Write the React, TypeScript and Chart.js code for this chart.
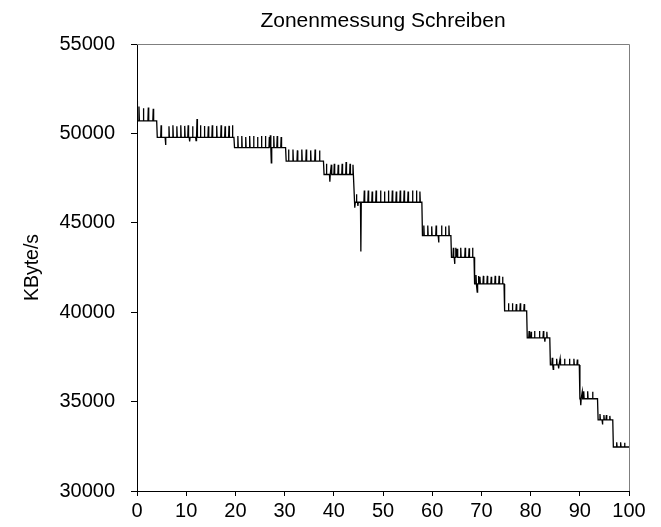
import React, { useEffect, useRef } from "react";
import { Chart, registerables } from "chart.js";

Chart.register(...registerables);

const chartTitle = "Zonenmessung Schreiben";
const yAxisTitle = "KByte/s";
const xTicks = [0, 10, 20, 30, 40, 50, 60, 70, 80, 90, 100];
const yTicks = [30000, 35000, 40000, 45000, 50000, 55000];

// plateau (zone) start positions and throughput levels
const zoneStart = [0, 4.0, 19.7, 30.2, 37.9, 44.1, 57.9, 63.8, 68.5, 74.6, 79.2, 83.9, 89.9, 93.6, 96.7];
const zoneLevel = [50700, 49780, 49200, 48450, 47700, 46150, 44280, 43070, 41580, 40070, 38560, 37050, 35160, 33980, 32460];
const xEnd = 100;

// individual spikes (position, value)
const spikeX = [
  0.0, 0.4, 1.3, 2.3, 3.3,
  4.9, 5.8, 6.5, 7.3, 8.1, 8.9, 9.7, 10.4, 10.7, 11.3, 12.0, 12.2, 12.9, 13.7, 14.5, 15.3, 16.2, 17.1, 17.9, 18.7, 19.4,
  20.5, 21.3, 22.1, 22.9, 23.7, 24.5, 25.3, 26.1, 26.9, 27.1, 27.3, 27.8, 28.5, 29.3,
  30.8, 31.7, 32.6, 33.5, 34.4, 35.3, 36.2, 37.1,
  38.5, 39.2, 39.5, 40.1, 40.9, 41.7, 42.5, 43.3, 43.9,
  44.3, 44.6, 44.9, 45.5, 46.2, 47.0, 47.8, 48.6, 49.5, 50.3, 51.1, 51.9, 52.7, 53.5, 54.3, 55.1, 56.0, 56.8, 57.5,
  58.3, 59.1, 59.9, 60.8, 61.3, 61.9, 62.7, 63.4,
  64.3, 64.55, 64.8, 65.1, 65.8, 66.7, 67.5, 68.2,
  68.9, 69.15, 69.4, 69.7, 70.4, 71.2, 72.0, 72.8, 73.6, 74.3,
  75.5, 76.3, 77.1, 77.9, 78.7,
  79.7, 80.1, 80.8, 81.8, 82.6, 82.9, 83.3,
  84.4, 84.6, 85.3, 85.7, 86.0, 86.9, 87.9, 88.8, 89.5,
  90.2, 90.5, 90.8, 91.6, 92.6,
  94.1, 94.6, 94.9, 95.4, 96.1,
  97.5, 98.3, 99.1,
];
const spikeY = [
  51850, 51500, 51400, 51450, 51380,
  50450, 49350, 50400, 50450, 50400, 50450, 50420, 50450, 49550, 50400, 49600, 50800, 50450, 50420, 50400, 50450, 50420, 50450, 50400, 50420, 50450,
  49850, 49850, 49800, 49850, 49850, 49800, 49850, 49850, 49800, 49900, 48350, 49850, 49850, 49800,
  49100, 49100, 49050, 49100, 49100, 49050, 49100, 49050,
  48300, 47300, 48250, 48300, 48250, 48300, 48400, 48300, 48250,
  45850, 46600, 45950, 43400, 46800, 46800, 46750, 46800, 46800, 46750, 46800, 46800, 46750, 46800, 46800, 46750, 46800, 46800, 46750,
  44850, 44850, 44800, 44850, 43900, 44850, 44800, 44850,
  43600, 42700, 43600, 43550, 43600, 43600, 43580, 43600,
  42080, 41130, 42030, 41980, 42030, 42030, 41980, 42030, 42030, 41980,
  40500, 40500, 40450, 40500, 40450,
  38950, 38900, 38950, 38950, 38950, 38350, 38900,
  37450, 36800, 37400, 36850, 37400, 37400, 37400, 37400, 37350,
  34800, 35550, 35580, 35580, 35550,
  34300, 33720, 34250, 34250, 34200,
  32720, 32720, 32700,
];

function buildPoints() {
  const pts: { x: number; y: number }[] = [];
  for (let i = 0; i < zoneStart.length; i++) {
    const s = zoneStart[i];
    const e = i + 1 < zoneStart.length ? zoneStart[i + 1] : xEnd;
    const lvl = zoneLevel[i];
    pts.push({ x: i === 0 ? s : s + 0.12, y: lvl });
    for (let k = 0; k < spikeX.length; k++) {
      const sx = spikeX[k];
      if (sx >= s && sx < e) {
        pts.push({ x: sx - 0.08, y: lvl });
        pts.push({ x: sx, y: spikeY[k] });
        pts.push({ x: sx + 0.08, y: lvl });
      }
    }
    pts.push({ x: e, y: lvl });
  }
  return pts;
}

const FONT = "'Liberation Sans', Arial, Helvetica, sans-serif";
const AREA = { left: 137, right: 629, top: 44, bottom: 491 };
const W = 661;
const H = 527;

const framePlugin = {
  id: "frame",
  afterDatasetsDraw(chart: any) {
    const { ctx, chartArea } = chart;
    ctx.save();
    ctx.strokeStyle = "#7f7f7f";
    ctx.lineWidth = 1;
    ctx.beginPath();
    ctx.moveTo(chartArea.left, chartArea.top + 0.5);
    ctx.lineTo(chartArea.right + 0.5, chartArea.top + 0.5);
    ctx.lineTo(chartArea.right + 0.5, chartArea.bottom);
    ctx.stroke();
    ctx.restore();
  },
  afterDraw(chart: any) {
    const { ctx, chartArea } = chart;
    ctx.save();
    ctx.fillStyle = "#000";
    ctx.font = `21px ${FONT}`;
    ctx.textAlign = "center";
    ctx.textBaseline = "alphabetic";
    ctx.fillText(chartTitle, (chartArea.left + chartArea.right) / 2, 27);
    ctx.restore();
  },
};

export default function App() {
  const ref = useRef<HTMLCanvasElement | null>(null);
  useEffect(() => {
    if (!ref.current) return;
    const chart = new Chart(ref.current, {
      type: "line",
      data: {
        datasets: [
          {
            data: buildPoints(),
            borderColor: "#000000",
            borderWidth: 1.3,
            pointRadius: 0,
            tension: 0,
            fill: false,
          },
        ],
      },
      options: {
        responsive: false,
        animation: false,
        events: [],
        layout: { padding: { left: 0, right: W - AREA.right, top: AREA.top, bottom: 0 } },
        plugins: {
          legend: { display: false },
          tooltip: { enabled: false },
          title: { display: false },
        },
        scales: {
          x: {
            type: "linear",
            min: xTicks[0],
            max: xTicks[xTicks.length - 1],
            afterBuildTicks: (s: any) => {
              s.ticks = xTicks.map((v) => ({ value: v }));
            },
            afterFit: (s: any) => {
              s.height = H - AREA.bottom;
            },
            grid: { display: true, drawOnChartArea: false, drawTicks: true, tickLength: 5, color: "#000" },
            border: { display: true, color: "#000", width: 1 },
            ticks: {
              color: "#000",
              padding: 3,
              font: { family: FONT, size: 20 },
              maxRotation: 0,
              autoSkip: false,
              callback: (v: any) => String(v),
            },
          },
          y: {
            type: "linear",
            min: yTicks[0],
            max: yTicks[yTicks.length - 1],
            afterBuildTicks: (s: any) => {
              s.ticks = yTicks.map((v) => ({ value: v }));
            },
            afterFit: (s: any) => {
              s.width = AREA.left;
            },
            grid: { display: true, drawOnChartArea: false, drawTicks: true, tickLength: 6, color: "#000" },
            border: { display: true, color: "#000", width: 1 },
            ticks: {
              color: "#000",
              padding: 16,
              font: { family: FONT, size: 20 },
              autoSkip: false,
              callback: (v: any) => String(v),
            },
            title: {
              display: true,
              text: yAxisTitle,
              color: "#000",
              font: { family: FONT, size: 19.5 },
              padding: { top: 21, bottom: 0 },
            },
          },
        },
      },
      plugins: [framePlugin],
    });
    return () => chart.destroy();
  }, []);
  return (
    <div style={{ position: "absolute", left: 0, top: 0, width: W, height: H, background: "#fff" }}>
      <canvas ref={ref} width={W} height={H} style={{ display: "block" }} />
    </div>
  );
}
